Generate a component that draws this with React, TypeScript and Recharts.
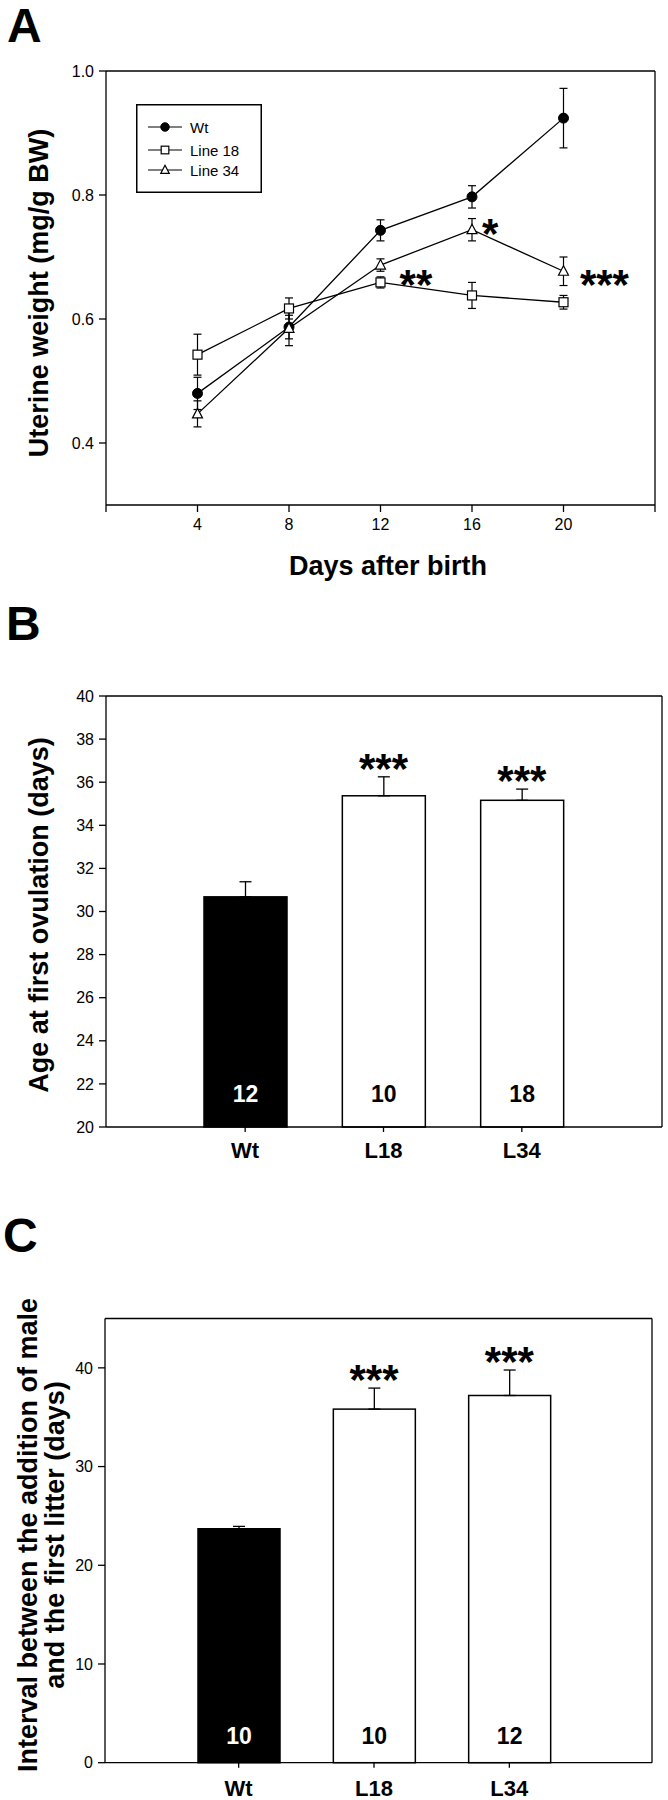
import React from 'react';
import {
  LineChart,
  Line,
  BarChart,
  Bar,
  XAxis,
  YAxis,
  CartesianGrid,
  ErrorBar,
  ReferenceDot,
  Label,
} from 'recharts';

const FONT = '"Liberation Sans", Arial, Helvetica, sans-serif';

// ---- panel A: uterine weight by age ----
const days = [4, 8, 12, 16, 20];
const wtWeight = [0.48, 0.587, 0.743, 0.797, 0.924];
const wtWeightSem = [0.026, 0.019, 0.017, 0.018, 0.048];
const line18Weight = [0.5425, 0.617, 0.659, 0.638, 0.627];
const line18WeightSem = [0.033, 0.017, 0.009, 0.021, 0.011];
const line34Weight = [0.447, 0.585, 0.687, 0.744, 0.677];
const line34WeightSem = [0.021, 0.028, 0.01, 0.018, 0.023];
const dayTicks = [0, 4, 8, 12, 16, 20, 24];
const weightTicks = [0.4, 0.6, 0.8, 1.0];
const weightStars = [
  { day: 13.55, value: 0.671, text: '**' },
  { day: 16.79, value: 0.753, text: '*' },
  { day: 21.79, value: 0.6705, text: '***' },
];

// ---- panels B and C ----
const groups = ['Wt', 'L18', 'L34'];
const significance = ['', '***', '***'];
const ovulationAge = [30.68, 35.37, 35.16];
const ovulationAgeSem = [0.7, 0.88, 0.52];
const ovulationN = [12, 10, 18];
const ageTicks = [20, 22, 24, 26, 28, 30, 32, 34, 36, 38, 40];
const litterInterval = [23.7, 35.82, 37.2];
const litterIntervalSem = [0.24, 2.13, 2.58];
const litterN = [10, 10, 12];
const intervalTicks = [0, 10, 20, 30, 40];

const series = [
  { key: 'wt', name: 'Wt', marker: 'circle' },
  { key: 'l18', name: 'Line 18', marker: 'square' },
  { key: 'l34', name: 'Line 34', marker: 'triangle' },
];

const weightRows = days.map((day, i) => ({
  day,
  wt: wtWeight[i],
  wtSem: wtWeightSem[i],
  l18: line18Weight[i],
  l18Sem: line18WeightSem[i],
  l34: line34Weight[i],
  l34Sem: line34WeightSem[i],
}));

const barRows = (means: number[], sems: number[], ns: number[]) =>
  groups.map((name, i) => ({
    name,
    mean: means[i],
    err: [0, sems[i]],
    top: means[i] + sems[i],
    n: ns[i],
    sig: significance[i],
  }));

const ageRows = barRows(ovulationAge, ovulationAgeSem, ovulationN);
const intervalRows = barRows(litterInterval, litterIntervalSem, litterN);

const barFills = ['#000', '#fff', '#fff'];
const AXIS = { stroke: '#000', strokeWidth: 1.3 };
const TICK = { fill: '#000', fontSize: 16, fontFamily: FONT };

// top and right edges of the plot box
const Frame = () => (
  <CartesianGrid
    stroke="#000"
    strokeWidth={1.3}
    horizontalCoordinatesGenerator={({ offset }: any) => [offset.top]}
    verticalCoordinatesGenerator={({ offset }: any) => [offset.left + offset.width]}
  />
);

const Marker = ({ kind, cx, cy, size = 1 }: any) => {
  if (kind === 'circle')
    return <circle cx={cx} cy={cy} r={5 * size} fill="#000" stroke="#000" strokeWidth={1} />;
  if (kind === 'square')
    return (
      <rect
        x={cx - 4.5 * size}
        y={cy - 4.5 * size}
        width={9 * size}
        height={9 * size}
        fill="#fff"
        stroke="#000"
        strokeWidth={1.2}
      />
    );
  return (
    <path
      d={`M${cx},${cy - 5.5 * size}L${cx + 5 * size},${cy + 4 * size}L${cx - 5 * size},${cy + 4 * size}Z`}
      fill="#fff"
      stroke="#000"
      strokeWidth={1.2}
    />
  );
};

const Stars = ({ viewBox, text, gap }: any) => {
  const cx = viewBox.x + viewBox.width / 2;
  const cy = viewBox.y + viewBox.height / 2;
  return (
    <text
      x={cx}
      y={cy - gap + 24}
      textAnchor="middle"
      fontSize={42}
      fontWeight="bold"
      fontFamily={FONT}
      fill="#000"
    >
      {text}
    </text>
  );
};

const YTitle = ({ x, y, children }: any) => (
  <text
    transform={`translate(${x},${y}) rotate(-90)`}
    textAnchor="middle"
    fontSize={27}
    fontWeight="bold"
    fontFamily={FONT}
    fill="#000"
  >
    {children}
  </text>
);

const WeightLegend = () => (
  <svg
    width={126}
    height={89}
    style={{ position: 'absolute', left: 136, top: 104 }}
  >
    <rect x={0.75} y={0.75} width={124.5} height={87.5} fill="#fff" stroke="#000" strokeWidth={1.5} />
    {series.map((s, i) => {
      const y = [23, 46, 66][i];
      return (
        <g key={s.key}>
          <line x1={12} x2={46} y1={y} y2={y} stroke="#000" strokeWidth={1.2} />
          <Marker kind={s.marker} cx={29} cy={y} size={0.85} />
          <text x={54} y={y + 5.5} fontSize={15} fontFamily={FONT} fill="#000">
            {s.name}
          </text>
        </g>
      );
    })}
  </svg>
);

const WeightChart = () => (
  <div style={{ position: 'absolute', left: 0, top: 0 }}>
    <LineChart
      width={668}
      height={600}
      data={weightRows}
      margin={{ top: 71, right: 13, bottom: 0, left: 0 }}
    >
      <Frame />
      <XAxis
        dataKey="day"
        type="number"
        domain={[0, 24]}
        ticks={dayTicks}
        tickFormatter={(v: number) => (v === 0 || v === 24 ? '' : String(v))}
        height={95}
        axisLine={AXIS}
        tickLine={AXIS}
        tickSize={7}
        tickMargin={7}
        tick={TICK}
      >
        <Label
          content={() => (
            <text
              x={388}
              y={575}
              textAnchor="middle"
              fontSize={27}
              fontWeight="bold"
              fontFamily={FONT}
              fill="#000"
            >
              Days after birth
            </text>
          )}
        />
      </XAxis>
      <YAxis
        type="number"
        domain={[0.3, 1.0]}
        ticks={weightTicks}
        tickFormatter={(v: number) => v.toFixed(1)}
        width={106}
        axisLine={AXIS}
        tickLine={AXIS}
        tickSize={7}
        tickMargin={5}
        tick={TICK}
      >
        <Label content={() => <YTitle x={48} y={293}>Uterine weight (mg/g BW)</YTitle>} />
      </YAxis>
      {series.map((s) => (
        <Line
          key={s.key}
          dataKey={s.key}
          name={s.name}
          type="linear"
          stroke="#000"
          strokeWidth={1.3}
          isAnimationActive={false}
          activeDot={false}
          dot={(p: any) => (
            <Marker key={`${s.key}-${p.index}`} kind={s.marker} cx={p.cx} cy={p.cy} />
          )}
        >
          <ErrorBar
            dataKey={`${s.key}Sem`}
            direction="y"
            width={4}
            stroke="#000"
            strokeWidth={1.2}
            isAnimationActive={false}
          />
        </Line>
      ))}
      {weightStars.map((st) => (
        <ReferenceDot
          key={st.text}
          x={st.day}
          y={st.value}
          r={1}
          fill="none"
          stroke="none"
          ifOverflow="visible"
          label={{ content: (p: any) => <Stars viewBox={p.viewBox} text={st.text} gap={0} /> }}
        />
      ))}
    </LineChart>
    <WeightLegend />
  </div>
);

const BarPanel = ({
  rows,
  top,
  marginTop,
  marginRight,
  yWidth,
  xHeight,
  domain,
  ticks,
  padding,
  barSize,
  nLift,
  labelMargin,
  title,
}: any) => (
  <div style={{ position: 'absolute', left: 0, top }}>
    <BarChart
      width={668}
      height={600}
      data={rows}
      margin={{ top: marginTop, right: marginRight, bottom: 0, left: 0 }}
    >
      <Frame />
      <XAxis
        dataKey="name"
        height={xHeight}
        padding={padding}
        axisLine={AXIS}
        tickLine={AXIS}
        tickSize={5}
        tickMargin={labelMargin}
        tick={{ fill: '#000', fontSize: 22, fontWeight: 'bold', fontFamily: FONT }}
      />
      <YAxis
        type="number"
        domain={domain}
        ticks={ticks}
        width={yWidth}
        axisLine={AXIS}
        tickLine={AXIS}
        tickSize={7}
        tickMargin={5}
        tick={TICK}
      >
        <Label content={() => title} />
      </YAxis>
      <Bar
        dataKey="mean"
        barSize={barSize}
        isAnimationActive={false}
        shape={(p: any) => {
          const i = groups.indexOf(p.payload.name);
          const fill = barFills[i];
          return (
            <g>
              <rect
                x={p.x}
                y={p.y}
                width={p.width}
                height={p.height}
                fill={fill}
                stroke="#000"
                strokeWidth={1.5}
              />
              <text
                x={p.x + p.width / 2}
                y={p.y + p.height - nLift + 8.2}
                textAnchor="middle"
                fontSize={23}
                fontWeight="bold"
                fontFamily={FONT}
                fill={fill === '#000' ? '#fff' : '#000'}
              >
                {p.payload.n}
              </text>
            </g>
          );
        }}
      >
        <ErrorBar
          dataKey="err"
          direction="y"
          width={6}
          stroke="#000"
          strokeWidth={1.3}
          isAnimationActive={false}
        />
      </Bar>
      {rows
        .filter((r: any) => r.sig)
        .map((r: any) => (
          <ReferenceDot
            key={r.name}
            x={r.name}
            y={r.top}
            r={1}
            fill="none"
            stroke="none"
            ifOverflow="visible"
            label={{ content: (p: any) => <Stars viewBox={p.viewBox} text={r.sig} gap={18} /> }}
          />
        ))}
    </BarChart>
  </div>
);

export default function App() {
  return (
    <div
      style={{
        position: 'absolute',
        left: 0,
        top: 0,
        width: 668,
        height: 1800,
        background: '#fff',
        fontFamily: FONT,
      }}
    >
      <WeightChart />
      <BarPanel
        rows={ageRows}
        top={600}
        marginTop={96}
        marginRight={6}
        yWidth={106}
        xHeight={73}
        domain={[20, 40]}
        ticks={ageTicks}
        padding={{ left: 70, right: 71 }}
        barSize={83}
        nLift={33}
        labelMargin={10}
        title={<YTitle x={48} y={315}>Age at first ovulation (days)</YTitle>}
      />
      <BarPanel
        rows={intervalRows}
        top={1200}
        marginTop={118.5}
        marginRight={16}
        yWidth={105}
        xHeight={37.3}
        domain={[0, 45]}
        ticks={intervalTicks}
        padding={{ left: 66, right: 75 }}
        barSize={82}
        nLift={27}
        labelMargin={13}
        title={
          <g>
            <YTitle x={37} y={335}>Interval between the addition of male</YTitle>
            <YTitle x={64} y={335}>and the first litter (days)</YTitle>
          </g>
        }
      />
      <svg
        width={668}
        height={1800}
        style={{ position: 'absolute', left: 0, top: 0, pointerEvents: 'none' }}
      >
        {[
          { t: 'A', x: 7, y: 42 },
          { t: 'B', x: 6, y: 640 },
          { t: 'C', x: 3, y: 1252 },
        ].map((l) => (
          <text key={l.t} x={l.x} y={l.y} fontSize={48} fontWeight="bold" fontFamily={FONT} fill="#000">
            {l.t}
          </text>
        ))}
      </svg>
    </div>
  );
}
